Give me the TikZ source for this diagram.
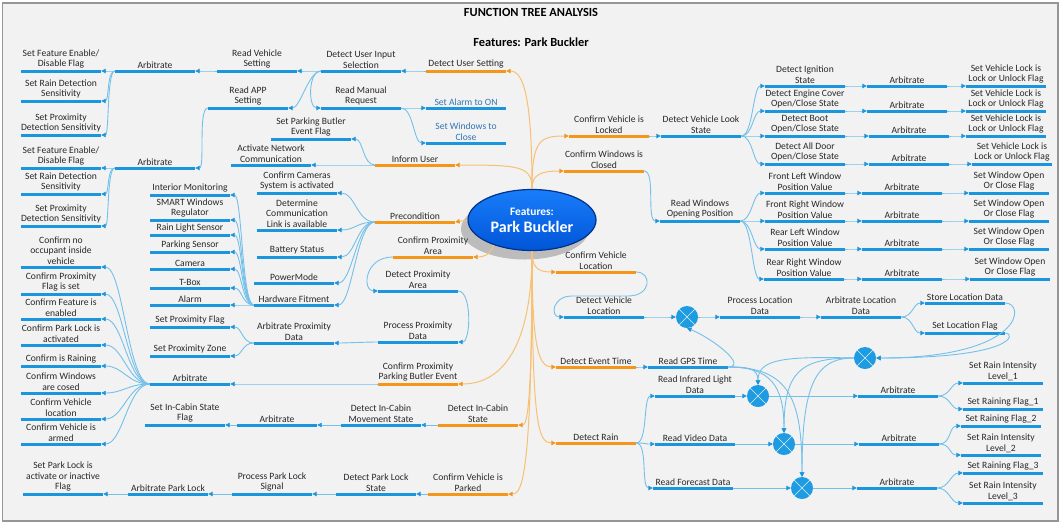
\documentclass[tikz,border=0pt]{standalone}
\usepackage{fontspec}
\setmainfont{Carlito}
\usetikzlibrary{arrows.meta,shapes.geometric,shadows}
\definecolor{bg}{RGB}{242,242,242}
\definecolor{framec}{RGB}{150,150,150}
\definecolor{barb}{RGB}{27,150,220}
\definecolor{lineb}{RGB}{115,192,235}
\definecolor{baro}{RGB}{243,150,25}
\definecolor{lineo}{RGB}{247,192,115}
\definecolor{txt}{RGB}{40,40,40}
\definecolor{txtb}{RGB}{46,117,182}
\definecolor{circ}{RGB}{30,155,225}
\definecolor{rootA}{RGB}{25,125,250}
\definecolor{rootB}{RGB}{0,85,215}
\definecolor{rootD}{RGB}{0,50,140}
\newcommand\lfont{\fontsize{9.6}{10.6}\selectfont}
\newcommand\BItem[5][]{\node[bbar,label={[lt,#1]above:{#5}}] (#2) at (#3,#4) {};}
\newcommand\OItem[5][]{\node[obar,label={[lt,#1]above:{#5}}] (#2) at (#3,#4) {};}
\newcommand\LC[3][12]{\draw[bc] (#2.west) .. controls +(-#1,0) and +(#1,0) .. (#3.east);}
\newcommand\RC[3][12]{\draw[bc] (#2.east) .. controls +(#1,0) and +(-#1,0) .. (#3.west);}
\begin{document}
\begin{tikzpicture}[x=1pt,y=-1pt,
  bbar/.style={rectangle,fill=barb,minimum width=80pt,minimum height=3pt,inner sep=0pt},
  obar/.style={rectangle,fill=baro,minimum width=80pt,minimum height=3pt,inner sep=0pt},
  lt/.style={font=\lfont,align=center,inner sep=0.8pt,text=txt},
  bc/.style={draw=lineb,line width=0.9pt,-{Triangle[length=4.5pt,width=4.5pt,color=barb]}},
  oc/.style={draw=lineo,line width=1pt,-{Triangle[length=4.5pt,width=4.5pt,color=baro]}},
  xc/.style={circle,fill=circ,minimum size=22pt,inner sep=0pt,
    path picture={\draw[white!85!circ,line width=0.6pt]
      (path picture bounding box.north west) -- (path picture bounding box.south east)
      (path picture bounding box.north east) -- (path picture bounding box.south west);}},
  root/.style={ellipse,minimum width=128pt,minimum height=61pt,inner sep=0pt,
    top color=rootA,bottom color=rootB,draw=rootD,line width=1.2pt,text=white,
    font=\bfseries,align=center,
    drop shadow={shadow xshift=-7pt,shadow yshift=-9pt,fill=black,opacity=0.22}},
  ttl/.style={font=\fontsize{12.4}{14}\selectfont\bfseries,text=black,inner sep=0pt}]
\useasboundingbox (0,0) rectangle (1062,523);
\fill[white] (0,0) rectangle (1062,523);
\draw[fill=bg,draw=framec,line width=1.5pt] (2.5,3) rectangle (1058,521);
\node[ttl] (title) at (531,12) {FUNCTION TREE ANALYSIS};
\node[ttl] (sub) at (531,42) {Features: Park Buckler};
% root
\node[root] (root) at (532,220) {\fontsize{11.4}{13}\selectfont Features:\\[5pt]\fontsize{16}{17}\selectfont Park Buckler};
\coordinate (rt) at (root.north);
\coordinate (rb) at (root.south);
% ---------- left top
\BItem{sfe1}{61}{71}{Set Feature Enable/\\Disable Flag}
\BItem{srd1}{61}{101}{Set Rain Detection\\Sensitivity}
\BItem{spd1}{61}{135}{Set Proximity\\Detection Sensitivity}
\BItem{arb1}{155}{71}{Arbitrate}
\BItem{rvs}{257}{71}{Read Vehicle\\Setting}
\BItem{duis}{361}{71}{Detect User Input\\Selection}
\OItem{dus}{466}{71}{Detect User Setting}
\BItem{rapp}{248}{108}{Read APP\\Setting}
\BItem{rmr}{361}{108}{Read Manual\\Request}
\BItem[text=txtb]{sao}{466}{108}{Set Alarm to ON}
\BItem[text=txtb]{swc}{466}{143}{Set Windows to\\Close}
\BItem{spbef}{311}{139}{Set Parking Butler\\Event Flag}
\BItem{anc}{271}{165}{Activate Network\\Communication}
\OItem{iu}{415}{165}{Inform User}
\BItem{sfe2}{61}{168}{Set Feature Enable/\\Disable Flag}
\BItem{arb2}{155}{168}{Arbitrate}
\BItem{srd2}{61}{194}{Set Rain Detection\\Sensitivity}
\BItem{spd2}{61}{226}{Set Proximity\\Detection Sensitivity}
% ---------- left middle
\BItem{im}{190}{195}{Interior Monitoring}
\BItem{swr}{190}{220}{SMART Windows\\Regulator}
\BItem{rls}{190}{235}{Rain Light Sensor}
\BItem{ps}{190}{252}{Parking Sensor}
\BItem{cam}{190}{269}{Camera}
\BItem{tbox}{190}{288}{T-Box}
\BItem{alm}{190}{305}{Alarm}
\BItem{hf}{294}{305}{Hardware Fitment}
\BItem{pm}{294}{283}{PowerMode}
\BItem{bs}{297}{257}{Battery Status}
\BItem{dcl}{297}{230}{Determine\\Communication\\Link is available}
\BItem{ccs}{297}{193}{Confirm Cameras\\System is activated}
\OItem{pre}{415}{222}{Precondition}
\OItem{cpa}{433}{257}{Confirm Proximity\\Area}
\BItem{dpa}{418}{291}{Detect Proximity\\Area}
\BItem{ppd}{418}{342}{Process Proximity\\Data}
\BItem{apd}{294}{343}{Arbitrate Proximity\\Data}
\BItem{spf}{190}{327}{Set Proximity Flag}
\BItem{spz}{190}{356}{Set Proximity Zone}
\BItem{arb3}{190}{384}{Arbitrate}
\OItem{cppbe}{418}{384}{Confirm Proximity\\Parking Butler Event}
\BItem{ca}{61}{267}{Confirm no\\occupant inside\\vehicle}
\BItem{cb}{61}{294}{Confirm Proximity\\Flag is set}
\BItem{cc}{61}{319}{Confirm Feature is\\enabled}
\BItem{cd}{61}{345}{Confirm Park Lock is\\activated}
\BItem{ce}{61}{366}{Confirm is Raining}
\BItem{cf}{61}{393}{Confirm Windows\\are cosed}
\BItem{cg}{61}{419}{Confirm Vehicle\\location}
\BItem{ch}{61}{444}{Confirm Vehicle is\\armed}
% ---------- left bottom
\BItem{sicsf}{185}{425}{Set In-Cabin State\\Flag}
\BItem{arb4}{277}{425}{Arbitrate}
\BItem{dicms}{381}{425}{Detect In-Cabin\\Movement State}
\OItem{dics}{478}{425}{Detect In-Cabin\\State}
\BItem{spl}{63}{494}{Set Park Lock is\\activate or inactive\\Flag}
\BItem{apl}{168}{494}{Arbitrate Park Lock}
\BItem{ppls}{272}{494}{Process Park Lock\\Signal}
\BItem{dpls}{376}{494}{Detect Park Lock\\State}
\OItem{cvp}{468}{494}{Confirm Vehicle is\\Parked}
% ---------- right top
\OItem{cvl}{609}{136}{Confirm Vehicle is\\Locked}
\BItem{dvls}{701}{136}{Detect Vehicle Look\\State}
\BItem{dis}{805}{86}{Detect Ignition\\State}
\BItem{aa}{907}{86}{Arbitrate}
\BItem{sva}{1006}{86}{Set Vehicle Lock is\\Lock or Unlock Flag}
\BItem{decs}{805}{111}{Detect Engine Cover\\Open/Close State}
\BItem{ab}{907}{111}{Arbitrate}
\BItem{svb}{1006}{111}{Set Vehicle Lock is\\Lock or Unlock Flag}
\BItem{dbs}{805}{136}{Detect Boot\\Open/Close State}
\BItem{ac}{909}{136}{Arbitrate}
\BItem{svc}{1006}{136}{Set Vehicle Lock is\\Lock or Unlock Flag}
\BItem{dads}{805}{164}{Detect All Door\\Open/Close State}
\BItem{ad}{909}{164}{Arbitrate}
\BItem{svd}{1012}{164}{Set Vehicle Lock is\\Lock or Unlock Flag}
\OItem{cwc}{604}{171}{Confirm Windows is\\Closed}
\BItem{rwop}{700}{221}{Read Windows\\Opening Position}
\BItem{flw}{805}{193}{Front Left Window\\Position Value}
\BItem{ae}{902}{193}{Arbitrate}
\BItem{swa}{1009}{193}{Set Window Open\\Or Close Flag}
\BItem{frw}{805}{221}{Front Right Window\\Position Value}
\BItem{af}{902}{221}{Arbitrate}
\BItem{swb}{1009}{221}{Set Window Open\\Or Close Flag}
\BItem{rlw}{805}{249}{Rear Left Window\\Position Value}
\BItem{ag}{902}{249}{Arbitrate}
\BItem{swcc}{1009}{249}{Set Window Open\\Or Close Flag}
\BItem{rrw}{804}{279}{Rear Right Window\\Position Value}
\BItem{ah}{902}{279}{Arbitrate}
\BItem{swd}{1010}{279}{Set Window Open\\Or Close Flag}
% ---------- right middle / bottom
\OItem{cvloc}{596}{272}{Confirm Vehicle\\Location}
\BItem{dvl}{604}{317}{Detect Vehicle\\Location}
\node[xc] (x1) at (687,317) {};
\BItem{pld}{760}{317}{Process Location\\Data}
\BItem{ald}{861}{317}{Arbitrate Location\\Data}
\BItem{sld}{965}{303}{Store Location Data}
\BItem{slf}{965}{333}{Set Location Flag}
\node[xc] (x2) at (865,358) {};
\OItem{det}{596}{367}{Detect Event Time}
\BItem{gps}{688}{367}{Read GPS Time}
\BItem{rir}{695}{396}{Read Infrared Light\\Data}
\node[xc] (x3) at (758,396) {};
\BItem{air}{898}{396}{Arbitrate}
\BItem{sria}{1003}{383}{Set Rain Intensity\\Level\_1}
\BItem{srfa}{1003}{409}{Set Raining Flag\_1}
\OItem{dr}{596}{443}{Detect Rain}
\BItem{rvd}{695}{444}{Read Video Data}
\node[xc] (x4) at (784,444) {};
\BItem{avd}{899}{444}{Arbitrate}
\BItem{srfb}{1001}{426}{Set Raining Flag\_2}
\BItem{srib}{1001}{455}{Set Rain Intensity\\Level\_2}
\BItem{rfd}{693}{488}{Read Forecast Data}
\node[xc] (x5) at (802,488) {};
\BItem{afd}{897}{488}{Arbitrate}
\BItem{srfc}{1003}{473}{Set Raining Flag\_3}
\BItem{sric}{1003}{503}{Set Rain Intensity\\Level\_3}
% ---------- trunk (orange)
\draw[oc] (rt) .. controls (532,100) and (524,71) .. (dus.east);
\draw[oc] (rt) .. controls (532,166) and (520,165) .. (iu.east);
\draw[oc] (rt) .. controls (532,140) and (540,136) .. (cvl.west);
\draw[oc] (rt) .. controls (532,175) and (540,171) .. (cwc.west);
\draw[oc] (root.west) -- (pre.east);
\draw[oc] (root.213) .. controls (490,255) and (484,257) .. (cpa.east);
\draw[oc] (rb) .. controls (532,268) and (538,272) .. (cvloc.west);
\draw[oc] (rb) .. controls (532,345) and (538,367) .. (det.west);
\draw[oc] (rb) .. controls (532,425) and (538,443) .. (dr.west);
\draw[oc] (rb) .. controls (532,350) and (500,384) .. (cppbe.east);
\draw[oc] (rb) .. controls (532,410) and (527,425) .. (dics.east);
\draw[oc] (rb) .. controls (532,478) and (522,494) .. (cvp.east);
% ---------- left connectors
\LC{dus}{duis}
\LC{duis}{rvs}
\LC{duis}{rapp}
\draw[bc] (duis.west) .. controls (308,71) and (308,108) .. (rmr.west);
\LC{rvs}{arb1}
\LC[8]{arb1}{sfe1}
\LC[8]{arb1}{srd1}
\LC[8]{arb1}{spd1}
\LC[10]{rapp}{arb2}
\LC[8]{arb2}{sfe2}
\LC[8]{arb2}{srd2}
\LC[8]{arb2}{spd2}
\RC{rmr}{sao}
\RC{rmr}{swc}
\LC{iu}{spbef}
\LC{iu}{anc}
\LC[18]{pre}{ccs}
\LC[18]{pre}{dcl}
\LC[18]{pre}{bs}
\LC[18]{pre}{pm}
\LC[18]{pre}{hf}
\LC{hf}{im}
\LC{hf}{swr}
\LC{hf}{rls}
\LC{hf}{ps}
\LC{hf}{cam}
\LC{hf}{tbox}
\LC{hf}{alm}
\draw[bc] (cpa.west) .. controls (364,257) and (362,291) .. (dpa.west);
\draw[bc] (dpa.east) .. controls (472,291) and (471,342) .. (ppd.east);
\LC{ppd}{apd}
\LC{apd}{spf}
\LC{apd}{spz}
\LC{cppbe}{arb3}
\LC[22]{arb3}{ca}
\LC[22]{arb3}{cb}
\LC[22]{arb3}{cc}
\LC[22]{arb3}{cd}
\LC[22]{arb3}{ce}
\LC[22]{arb3}{cf}
\LC[22]{arb3}{cg}
\LC[22]{arb3}{ch}
\LC{dics}{dicms}
\LC{dicms}{arb4}
\LC{arb4}{sicsf}
\LC{cvp}{dpls}
\LC{dpls}{ppls}
\LC{ppls}{apl}
\LC{apl}{spl}
% ---------- right connectors
\RC{cvl}{dvls}
\RC{dvls}{dis}
\RC{dvls}{decs}
\RC{dvls}{dbs}
\RC{dvls}{dads}
\RC{dis}{aa}\RC{aa}{sva}
\RC{decs}{ab}\RC{ab}{svb}
\RC{dbs}{ac}\RC{ac}{svc}
\RC{dads}{ad}\RC{ad}{svd}
\draw[bc] (cwc.east) .. controls (656,171) and (646,221) .. (rwop.west);
\RC{rwop}{flw}
\RC{rwop}{frw}
\RC{rwop}{rlw}
\RC{rwop}{rrw}
\RC{flw}{ae}\RC{ae}{swa}
\RC{frw}{af}\RC{af}{swb}
\RC{rlw}{ag}\RC{ag}{swcc}
\RC{rrw}{ah}\RC{ah}{swd}
\draw[bc] (cvloc.east) .. controls (652,272) and (652,296) .. (628,296) -- (572,296) .. controls (552,296) and (550,317) .. (dvl.west);
\RC{dvl}{x1}
\RC{x1}{pld}
\RC{pld}{ald}
\RC{ald}{sld}
\RC{ald}{slf}
\draw[bc] (sld.east) .. controls (1026,303) and (1024,358) .. (x2.east);
\draw[bc] (slf.east) .. controls (1016,333) and (1016,358) .. (x2.east);
\RC{det}{gps}
\draw[bc] (gps.east) .. controls (748,366) and (712,338) .. (x1.south);
\draw[bc] (gps.east) .. controls (748,367) and (758,368) .. (x3.north);
\draw[bc] (gps.east) .. controls (770,367) and (784,385) .. (x4.north);
\draw[bc] (gps.east) .. controls (790,367) and (802,400) .. (x5.north);
\draw[bc] (x2.west) .. controls (780,356) and (758,360) .. (x3.north);
\draw[bc] (x2.west) .. controls (800,358) and (784,372) .. (x4.north);
\draw[bc] (x2.west) .. controls (815,358) and (802,385) .. (x5.north);
\RC{dr}{rir}
\RC{dr}{rvd}
\RC{dr}{rfd}
\RC{rir}{x3}\RC{x3}{air}
\RC{air}{sria}\RC{air}{srfa}
\RC{rvd}{x4}\RC{x4}{avd}
\RC{avd}{srfb}\RC{avd}{srib}
\RC{rfd}{x5}\RC{x5}{afd}
\RC{afd}{srfc}\RC{afd}{sric}
\end{tikzpicture}
\end{document}
